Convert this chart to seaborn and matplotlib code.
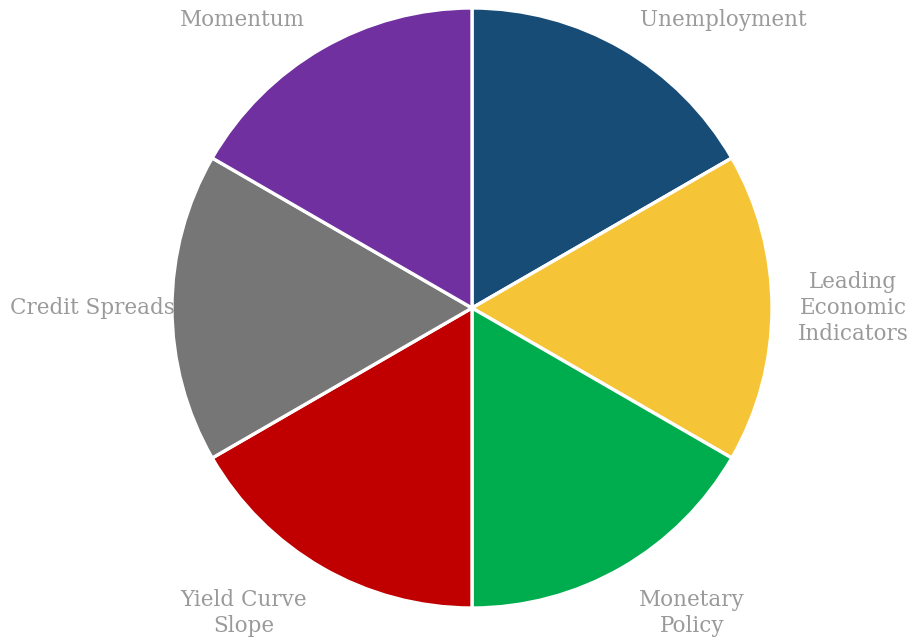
import matplotlib.pyplot as plt
import seaborn as sns

# six equally weighted factors
categories = ["Unemployment", "Leading\nEconomic\nIndicators", "Monetary\nPolicy",
              "Yield Curve\nSlope", "Credit Spreads", "Momentum"]
weights = [1, 1, 1, 1, 1, 1]
colors = ["#174C76", "#F6C437", "#00AD4E", "#C00000", "#767676", "#7030A0"]

# label anchor points, in units of the pie radius
label_pos = [(0.837, 0.96), (1.27, 0.0), (0.733, -1.017),
             (-0.76, -1.017), (-1.265, 0.0), (-0.767, 0.96)]


def main(output_img="out.png"):
    sns.set_theme(style="white")
    plt.rcParams["font.family"] = ["DejaVu Serif", "DejaVu Sans"]

    fig = plt.figure(figsize=(9.22, 6.41), dpi=100)
    ax = fig.add_axes([0, 0, 1, 1])

    ax.pie(
        weights,
        colors=sns.color_palette(colors),
        startangle=90,
        counterclock=False,
        radius=1.0,
        wedgeprops={"edgecolor": "white", "linewidth": 2.4},
    )

    for text, (x, y) in zip(categories, label_pos):
        ax.text(x, y, text, ha="center", va="center", color="#9A9A9A",
                fontsize=15.5, linespacing=1.22)

    ax.set_xlim(-472 / 300, 450 / 300)
    ax.set_ylim(-333 / 300, 308 / 300)
    ax.set_aspect("equal")
    ax.axis("off")

    fig.savefig(output_img, dpi=100)


if __name__ == "__main__":
    main()
